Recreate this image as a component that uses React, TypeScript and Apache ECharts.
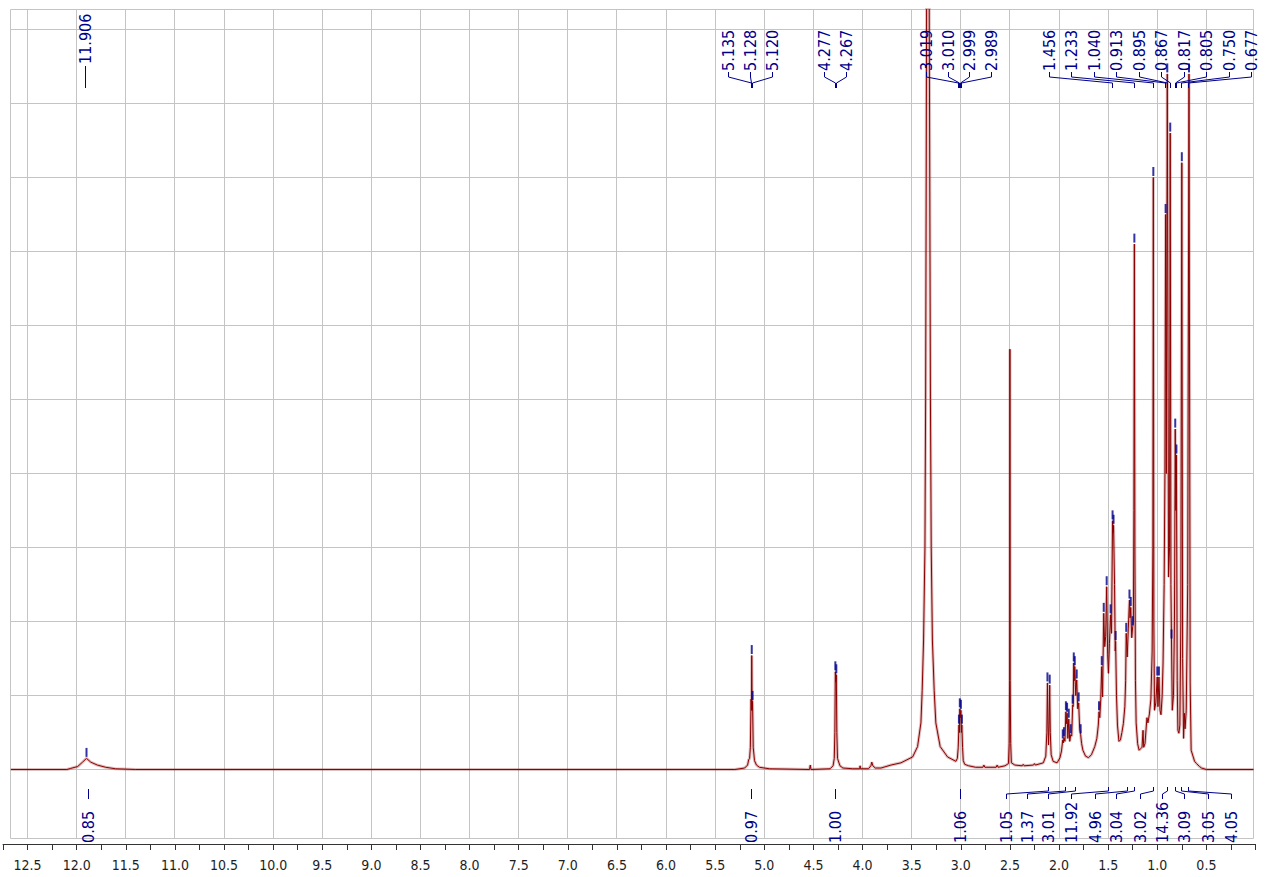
import React, { useEffect, useRef } from "react";
import * as echarts from "echarts";

// ---------------- DATA ----------------
// Spectrum trace (chemical shift in ppm, intensity in grid units), high -> low ppm
const SPEC_PPM = [
  12.67, 12.1, 12.06, 11.99, 11.94, 11.9, 11.857, 11.79, 11.705, 11.606, 11.4,
  5.3, 5.2, 5.17, 5.16, 5.15, 5.142, 5.135, 5.131, 5.128, 5.124, 5.12, 5.113, 5.1, 5.08, 5.05, 4.95,
  4.54, 4.532, 4.525,
  4.33, 4.3, 4.288, 4.282, 4.277, 4.272, 4.267, 4.262, 4.255, 4.23, 4.2, 4.1,
  4.03, 4.025, 4.02, 3.94, 3.915, 3.906, 3.895, 3.87,
  3.812, 3.711, 3.609, 3.49, 3.44, 3.406, 3.393, 3.379, 3.365, 3.358, 3.352, 3.347, 3.335,
  3.323, 3.316, 3.309, 3.301, 3.289, 3.271, 3.254, 3.21, 3.135, 3.05,
  3.035, 3.026, 3.019, 3.014, 3.01, 3.005, 2.999, 2.994, 2.989, 2.982, 2.975, 2.96, 2.92,
  2.85, 2.775, 2.765, 2.755, 2.64, 2.63, 2.62, 2.55,
  2.515, 2.508, 2.503, 2.5, 2.497, 2.492, 2.485, 2.45, 2.375, 2.365, 2.355, 2.26, 2.25, 2.24,
  2.16, 2.135, 2.124, 2.118, 2.112, 2.107, 2.101, 2.095, 2.089, 2.08, 2.06, 2.02,
  1.99, 1.975, 1.962, 1.956, 1.95, 1.94, 1.93, 1.924, 1.918, 1.91, 1.901, 1.891, 1.881, 1.871,
  1.861, 1.856, 1.85, 1.845, 1.84, 1.83, 1.82, 1.81, 1.8, 1.79, 1.78, 1.77, 1.757,
  1.73, 1.7, 1.67, 1.636, 1.615, 1.6, 1.593, 1.585, 1.575, 1.565, 1.557, 1.545, 1.535, 1.525,
  1.515, 1.505, 1.497, 1.487, 1.475, 1.466, 1.455, 1.45, 1.445, 1.435, 1.428, 1.424, 1.415,
  1.405, 1.39, 1.375, 1.36, 1.345, 1.33, 1.322, 1.316, 1.306, 1.295, 1.283, 1.277, 1.27, 1.26,
  1.25, 1.243, 1.238, 1.233, 1.228, 1.222, 1.215, 1.2, 1.185, 1.17, 1.155, 1.145, 1.138, 1.125,
  1.105, 1.095, 1.08, 1.065, 1.052, 1.045, 1.04, 1.035, 1.028, 1.015, 1.0, 0.993, 0.983, 0.972,
  0.962, 0.95, 0.941, 0.93, 0.922, 0.915, 0.908, 0.898, 0.885, 0.875, 0.868, 0.861, 0.855,
  0.847, 0.835, 0.825, 0.817, 0.811, 0.805, 0.797, 0.79, 0.78, 0.77, 0.76, 0.75, 0.742, 0.732,
  0.724, 0.717, 0.705, 0.69, 0.677, 0.665, 0.655, 0.62, 0.6, 0.57, 0.55, 0.5, 0.02,
];
const SPEC_INT = [
  0, 0, 0.015, 0.04, 0.1, 0.15, 0.1, 0.06, 0.03, 0.01, 0,
  0, 0.02, 0.06, 0.13, 0.15, 0.3, 0.95, 0.8, 1.54, 0.8, 0.92, 0.3, 0.12, 0.06, 0.03, 0.01,
  0, 0.06, 0,
  0.01, 0.05, 0.15, 0.5, 1.32, 1.18, 1.28, 0.5, 0.15, 0.05, 0.02, 0.01,
  0.01, 0.05, 0.01, 0.01, 0.05, 0.1, 0.05, 0.02,
  0.02, 0.06, 0.09, 0.17, 0.31, 0.63, 1.07, 1.75, 3, 5, 8, 11, 14,
  11, 8, 5, 3, 1.75, 1.07, 0.63, 0.31, 0.17, 0.11,
  0.15, 0.3, 0.6, 0.5, 0.82, 0.7, 0.8, 0.5, 0.6, 0.3, 0.12, 0.07, 0.05,
  0.03, 0.03, 0.06, 0.03, 0.03, 0.06, 0.03, 0.05,
  0.08, 0.35, 1.2, 5.68, 1.2, 0.35, 0.09, 0.06, 0.05, 0.07, 0.05, 0.06, 0.08, 0.06,
  0.09, 0.18, 0.5, 1.17, 0.6, 0.33, 0.6, 1.14, 0.5, 0.2, 0.11, 0.09,
  0.16, 0.25, 0.4, 0.36, 0.43, 0.38, 0.78, 0.62, 0.76, 0.42, 0.68, 0.38, 0.47, 0.45,
  0.87, 0.85, 1.44, 1.2, 1.39, 1.0, 1.21, 0.82, 0.9, 0.55, 0.47, 0.35, 0.26,
  0.18, 0.16, 0.2, 0.31, 0.42, 0.6, 0.78, 0.7, 0.95, 1.39, 0.98, 2.11, 1.66, 1.8,
  2.47, 1.55, 1.3, 1.7, 2.09, 1.84, 3.36, 3.2, 3.3, 2.5, 1.6, 1.73, 1.0,
  0.6, 0.38, 0.4, 0.5, 0.62, 0.85, 1.2, 1.84, 1.52, 1.9, 2.29, 2.05, 2.19, 1.78,
  1.93, 2.0, 3.5, 7.1, 3.0, 1.2, 0.63, 0.35, 0.26, 0.28, 0.3, 0.53, 0.3, 0.35,
  0.7, 0.63, 0.75, 0.95, 1.6, 3.0, 8.0, 2.0, 0.8, 0.9, 1.25, 0.85, 1.25, 0.8,
  0.74, 1.0, 1.44, 2.5, 4.0, 7.5, 4.0, 9.4, 2.6, 3.0, 8.6, 2.5, 1.75,
  0.8, 1.0, 2.0, 4.6, 3.5, 4.25, 1.2, 0.53, 0.49, 0.6, 2.0, 8.2, 1.5, 0.42,
  0.76, 0.55, 0.8, 2.5, 9.4, 1.17, 0.26, 0.11, 0.08, 0.04, 0.02, 0, 0,
];

// Peak-picking marks (ppm, intensity)
const PICK_PPM = [
  11.9, 5.128, 5.12, 4.277, 4.267, 3.019, 3.01, 2.999, 2.989, 2.118, 2.095,
  1.962, 1.95, 1.93, 1.918, 1.901, 1.881, 1.861, 1.85, 1.84, 1.82, 1.8, 1.78,
  1.593, 1.565, 1.545, 1.515, 1.475, 1.455, 1.445, 1.424,
  1.316, 1.283, 1.27, 1.25, 1.233, 1.04, 1.0, 0.983,
  0.915, 0.898, 0.868, 0.855, 0.817, 0.805, 0.75, 0.677,
];
const PICK_INT = [
  0.15, 1.54, 0.92, 1.32, 1.28, 0.6, 0.82, 0.8, 0.6, 1.17, 1.14,
  0.4, 0.43, 0.78, 0.76, 0.68, 0.47, 0.87, 1.44, 1.39, 1.21, 0.9, 0.47,
  0.78, 1.39, 2.11, 2.47, 2.09, 3.36, 3.3, 1.73,
  1.84, 2.29, 2.19, 1.93, 7.1, 8.0, 1.25, 1.25,
  7.5, 9.4, 8.6, 1.75, 4.6, 4.25, 8.2, 9.4,
];

// Peak labels (text = shift)
const PEAK_LABELS = [
  "11.906", "5.135", "5.128", "5.120", "4.277", "4.267",
  "3.019", "3.010", "2.999", "2.989",
  "1.456", "1.233", "1.040", "0.913", "0.895", "0.867", "0.817", "0.805", "0.750", "0.677",
];
// Integrals
const INTEGRAL_LABELS = [
  "0.85", "0.97", "1.00", "1.06", "1.05", "1.37", "3.01", "11.92", "4.96",
  "3.04", "3.02", "14.36", "3.09", "3.05", "4.05",
];
const INTEGRAL_CENTER = [
  11.88, 5.128, 4.272, 3.004, 2.107, 1.93, 1.83, 1.5, 1.3,
  1.233, 1.04, 0.9, 0.81, 0.75, 0.677,
];

// Axis ticks / grid
const GRID_PPM = [12.5, 12, 11.5, 11, 10.5, 10, 9.5, 9, 8.5, 8, 7.5, 7, 6.5, 6, 5.5, 5, 4.5, 4, 3.5, 3, 2.5, 2, 1.5, 1, 0.5];
const GRID_Y = [0, 1, 2, 3, 4, 5, 6, 7, 8, 9, 10];
const X_MIN = 0;
const X_MAX = 12.75;
const TICK_STEP = 0.25;
const Y_MIN = -0.9257;
const Y_MAX = 10.2703;
const FRAME_LEFT_PPM = 12.673;
const FRAME_RIGHT_PPM = 0.0235;

// ---------------- LAYOUT (pixels) ----------------
const PEAK_LABEL_X = [85, 728, 750, 772, 824, 846, 926, 948, 969.5, 991, 1049, 1071.5, 1094, 1116.5, 1139, 1161.5, 1184, 1206.5, 1229, 1251.5];
const INTEGRAL_LABEL_X = [88, 751, 835, 960, 1006, 1027, 1048.5, 1071.5, 1095, 1116.5, 1140, 1162.5, 1184, 1208, 1231.5];
const NAVY = "#00008b";
const GRID_COLOR = "#c4c4c4";
const FONT = '"DejaVu Sans Condensed", "DejaVu Sans", sans-serif';

export default function App() {
  const ref = useRef<HTMLDivElement>(null);
  useEffect(() => {
    if (!ref.current) return;
    const chart = echarts.init(ref.current, null, { renderer: "svg" });
    const spec = SPEC_PPM.map((p, i) => [p, SPEC_INT[i]]);
    const picks = PICK_PPM.map((p, i) => [p, PICK_INT[i]]);
    chart.setOption({
      animation: false,
      grid: { left: 0.39, right: 9.5, top: 9.5, bottom: 39, containLabel: false },
      xAxis: {
        type: "value",
        inverse: true,
        min: X_MIN,
        max: X_MAX,
        interval: TICK_STEP,
        offset: 6,
        axisLine: { show: true, onZero: false, lineStyle: { color: "#333", width: 1 } },
        axisTick: { show: true, length: 6, lineStyle: { color: "#333" } },
        axisLabel: {
          color: "#1e1e1e",
          fontSize: 14,
          fontFamily: FONT,
          margin: 14,
          showMinLabel: true,
          showMaxLabel: true,
          formatter: (v: number) => {
            const r = Math.round(v * 4);
            if (r % 2 !== 0 || v < 0.4 || v > 12.6) return "";
            return v.toFixed(1);
          },
        },
        splitLine: { show: false },
      },
      yAxis: { type: "value", min: Y_MIN, max: Y_MAX, show: false, splitLine: { show: false } },
      series: [
        {
          type: "line", data: spec, showSymbol: false, symbol: "none", silent: true, z: 3,
          lineStyle: { color: "rgba(150,40,40,0.3)", width: 3 },
        },
        {
          type: "line", data: spec, showSymbol: false, symbol: "none", silent: true, z: 4,
          lineStyle: { color: "#8b0000", width: 1 },
        },
        {
          type: "scatter", data: picks, symbol: "rect", symbolSize: [2, 9], symbolOffset: [0, -6],
          itemStyle: { color: NAVY }, z: 5, silent: true,
        },
      ],
    });

    const toPx = (x: number, y: number) => chart.convertToPixel({ gridIndex: 0 }, [x, y]) as number[];
    const crisp = (v: number) => Math.floor(v + 1e-6) + 0.5;
    const els: any[] = [];
    const line = (x1: number, y1: number, x2: number, y2: number, stroke: string, z: number) => ({
      type: "line", silent: true, z,
      shape: { x1, y1, x2, y2 },
      style: { stroke, lineWidth: 1 },
    });
    const yTop = crisp(toPx(0, Y_MAX)[1]);
    const yBot = crisp(toPx(0, Y_MIN)[1]);
    const xL = crisp(toPx(FRAME_LEFT_PPM, 0)[0]);
    const xR = crisp(toPx(FRAME_RIGHT_PPM, 0)[0]);
    GRID_PPM.forEach((p) => {
      const x = crisp(toPx(p, 0)[0]);
      els.push(line(x, yTop, x, yBot, GRID_COLOR, 1));
    });
    GRID_Y.forEach((v) => {
      const y = crisp(toPx(0, v)[1]);
      els.push(line(xL, y, xR, y, GRID_COLOR, 1));
    });
    els.push({
      type: "rect", silent: true, z: 1,
      shape: { x: xL, y: yTop, width: xR - xL, height: yBot - yTop },
      style: { fill: "none", stroke: GRID_COLOR, lineWidth: 1 },
    });

    const text = (t: string, x: number, y: number) => ({
      type: "text", silent: true, z: 10, x, y, rotation: Math.PI / 2,
      style: {
        text: t, fill: NAVY, font: `16px ${FONT}`,
        align: "left", verticalAlign: "middle", textAlign: "left", textVerticalAlign: "middle",
      },
    });

    PEAK_LABELS.forEach((lab, i) => {
      const lx = PEAK_LABEL_X[i];
      const tx = crisp(toPx(parseFloat(lab), 0)[0]);
      if (i === 0) {
        els.push(text(lab, lx, 64));
        els.push(line(crisp(lx), 66, crisp(lx), 88, NAVY, 10));
      } else {
        els.push(text(lab, lx, 71));
        els.push({
          type: "polyline", silent: true, z: 10,
          shape: { points: [[crisp(lx), 72], [crisp(lx), 77], [tx, 83], [tx, 88]] },
          style: { stroke: NAVY, lineWidth: 1, fill: "none" },
        });
      }
    });

    INTEGRAL_LABELS.forEach((lab, i) => {
      const lx = INTEGRAL_LABEL_X[i];
      const rx = crisp(toPx(INTEGRAL_CENTER[i], 0)[0]);
      els.push(text(lab, lx, 843));
      if (i < 4) {
        els.push(line(crisp(lx), 789, crisp(lx), 799, NAVY, 10));
      } else {
        els.push({
          type: "polyline", silent: true, z: 10,
          shape: { points: [[crisp(lx), 799], [crisp(lx), 794], [rx, 791], [rx, 787]] },
          style: { stroke: NAVY, lineWidth: 1, fill: "none" },
        });
      }
    });

    chart.setOption({ graphic: els });
    return () => chart.dispose();
  }, []);
  return <div ref={ref} style={{ position: "absolute", left: 0, top: 0, width: 1265, height: 877 }} />;
}
